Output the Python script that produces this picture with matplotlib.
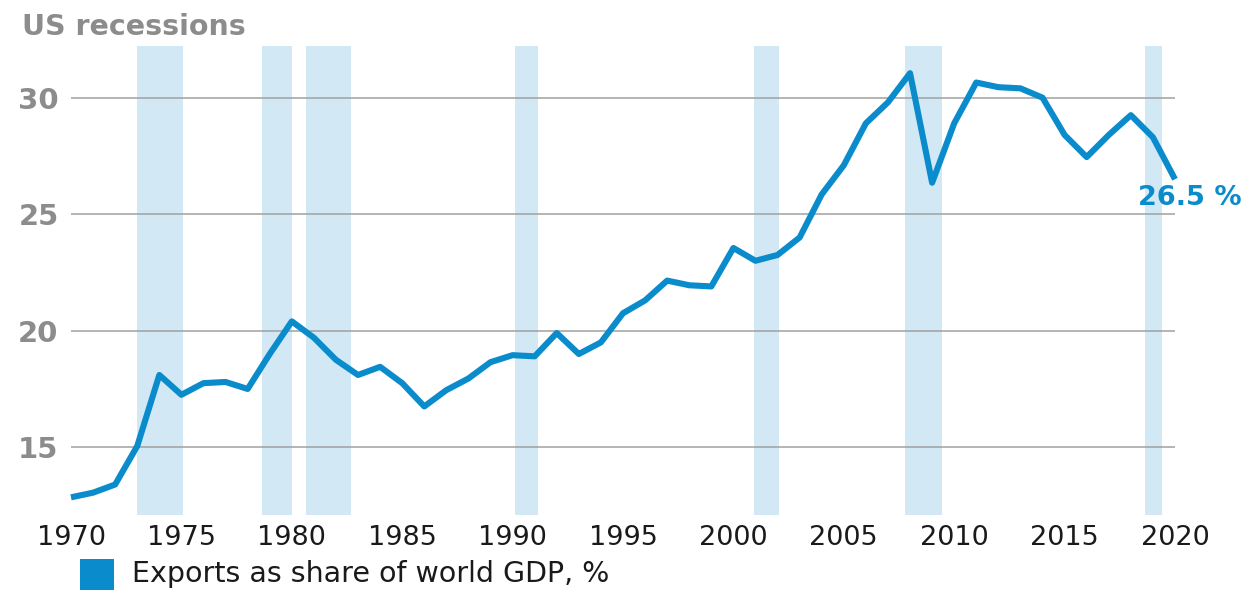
import numpy as np
import matplotlib.pyplot as plt
from matplotlib.patches import Rectangle

plt.rcParams['font.family'] = ['DejaVu Sans']

years = np.arange(1970, 2021)
exports_share = [12.85, 13.05, 13.4, 15.05, 18.1, 17.25, 17.75, 17.8, 17.5, 19.0,
                 20.4, 19.7, 18.75, 18.1, 18.45, 17.75, 16.75, 17.45, 17.95, 18.65,
                 18.95, 18.9, 19.9, 19.0, 19.5, 20.75, 21.3, 22.15, 21.95, 21.9,
                 23.55, 23.0, 23.25, 24.0, 25.85, 27.1, 28.9, 29.8, 31.05, 26.35,
                 28.9, 30.65, 30.45, 30.4, 30.0, 28.4, 27.45, 28.4, 29.25, 28.3,
                 26.5]

# recession shading as drawn in the source chart (start, end)
recession_start = [1972.98, 1978.64, 1980.63, 1990.09, 2000.92, 2007.76, 2018.66]
recession_end = [1975.06, 1980.0, 1982.67, 1991.15, 2002.08, 2009.45, 2019.42]

x_ticks = [1970, 1975, 1980, 1985, 1990, 1995, 2000, 2005, 2010, 2015, 2020]
y_ticks = [15, 20, 25, 30]

line_blue = '#0a8ccc'
shade_blue = '#d2e9f5'
grey_text = '#8c8c8c'
dark_text = '#1a1a1a'

fig = plt.figure(figsize=(12.49, 5.9), dpi=100)
ax = fig.add_axes([0.05685, 0.12746, 0.8839, 0.7939])

for s, e in zip(recession_start, recession_end):
  ax.axvspan(s, e, color=shade_blue, lw=0, zorder=1)

ax.plot(years, exports_share, color=line_blue, lw=4.4, zorder=3, clip_on=False,
        solid_joinstyle='round', solid_capstyle='butt')

ax.annotate(f"{exports_share[-1]} %", xy=(years[-1], exports_share[-1]),
            xytext=(-26.4, -18.8), textcoords='offset points',
            ha='left', va='baseline', fontsize=19.5, fontweight='bold',
            color=line_blue, annotation_clip=False)

ax.set_xlim(1970, 2020)
ax.set_ylim(12.1, 32.2)
ax.set_xticks(x_ticks)
ax.set_yticks(y_ticks)
ax.grid(axis='y', color='#a0a0a0', lw=1.1)
ax.grid(axis='x', visible=False)
for sp in ax.spines.values():
  sp.set_visible(False)

ax.tick_params(axis='x', length=0, pad=7, labelsize=19.5, labelcolor=dark_text)
ax.tick_params(axis='y', length=0, pad=9, labelsize=21, labelcolor=grey_text)
for lab in ax.get_yticklabels():
  lab.set_fontweight('bold')

fig.text(21.7/1249, 1-35/590, 'US recessions', ha='left', va='baseline',
         fontsize=20.5, fontweight='bold', color=grey_text)

# legend swatch + label at the bottom
fig.patches.append(Rectangle((80/1249, -4/590), 34/1249, 35/590,
                             transform=fig.transFigure, color=line_blue, lw=0))
fig.text(131.7/1249, 1-582/590, 'Exports as share of world GDP, %',
         ha='left', va='baseline', fontsize=20.5, color=dark_text)

fig.savefig('out.png', dpi=100)
